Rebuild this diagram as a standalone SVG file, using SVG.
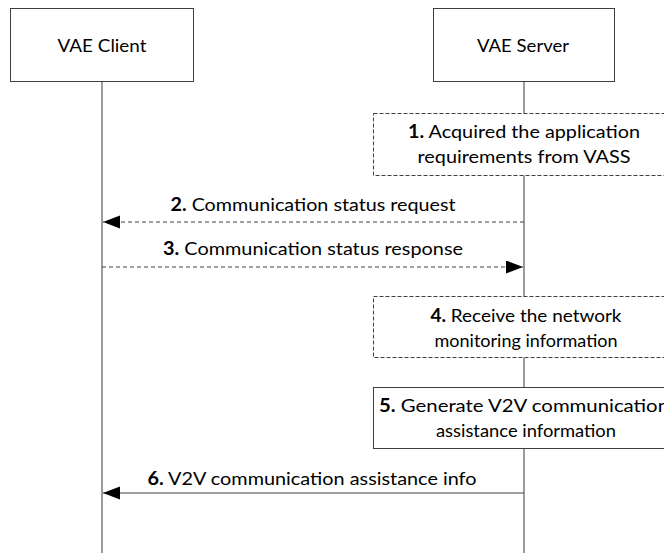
<svg xmlns="http://www.w3.org/2000/svg" width="664" height="553" viewBox="0 0 664 553">
<defs>
<style>
text{font-family:Lato,"Open Sans","Liberation Sans",sans-serif;font-size:18px;fill:#000;text-anchor:middle}
.b{font-weight:bold}
.box{fill:#fff;stroke:#404040;stroke-width:1}
.dbox{fill:#fff;stroke:#404040;stroke-width:1;stroke-dasharray:4 2}
.life{stroke:#595959;stroke-width:1.2;fill:none}
.msg{stroke:#404040;stroke-width:1;fill:none}
.dash{stroke-dasharray:4 3}
</style>
<marker id="ah" markerUnits="userSpaceOnUse" markerWidth="18" markerHeight="14" refX="17" refY="6.5" orient="auto">
<path d="M0,0 L17,6.5 L0,13 Z" fill="#000"/>
</marker>
</defs>
<g id="lifelines">
<line class="life" x1="102" y1="81" x2="102" y2="553"/>
<line class="life" x1="524" y1="81" x2="524" y2="553"/>
</g>
<g id="client">
<rect class="box" x="10.5" y="8.5" width="183" height="73"/>
<text x="102" y="52" textLength="89" lengthAdjust="spacingAndGlyphs">VAE Client</text>
</g>
<g id="server">
<rect class="box" x="433.5" y="8.5" width="181" height="73"/>
<text x="523" y="52" textLength="92" lengthAdjust="spacingAndGlyphs">VAE Server</text>
</g>
<g id="step1">
<rect class="dbox" x="373.5" y="113.5" width="302" height="62"/>
<text x="524" y="138" textLength="232" lengthAdjust="spacingAndGlyphs"><tspan class="b">1.</tspan> Acquired the application</text>
<text x="524" y="163" textLength="213" lengthAdjust="spacingAndGlyphs">requirements from VASS</text>
</g>
<g id="step4">
<rect class="dbox" x="373.5" y="296.5" width="302" height="61"/>
<text x="526" y="322" textLength="191" lengthAdjust="spacingAndGlyphs"><tspan class="b">4.</tspan> Receive the network</text>
<text x="526" y="347" textLength="183" lengthAdjust="spacingAndGlyphs">monitoring information</text>
</g>
<g id="step5">
<rect class="box" x="373.5" y="387.5" width="302" height="61"/>
<text x="524" y="412" textLength="290" lengthAdjust="spacingAndGlyphs"><tspan class="b">5.</tspan> Generate V2V communication</text>
<text x="526" y="437" textLength="180" lengthAdjust="spacingAndGlyphs">assistance information</text>
</g>
<g id="connectors">
<line class="msg dash" x1="524" y1="222" x2="103" y2="222" marker-end="url(#ah)"/>
<text x="313" y="211" textLength="285" lengthAdjust="spacingAndGlyphs"><tspan class="b">2.</tspan> Communication status request</text>
<line class="msg dash" x1="102" y1="267" x2="523" y2="267" marker-end="url(#ah)"/>
<text x="313" y="255" textLength="300" lengthAdjust="spacingAndGlyphs"><tspan class="b">3.</tspan> Communication status response</text>
<line class="msg" x1="524" y1="493" x2="103" y2="493" marker-end="url(#ah)"/>
<text x="312" y="485" textLength="329" lengthAdjust="spacingAndGlyphs"><tspan class="b">6.</tspan> V2V communication assistance info</text>
</g>
</svg>
